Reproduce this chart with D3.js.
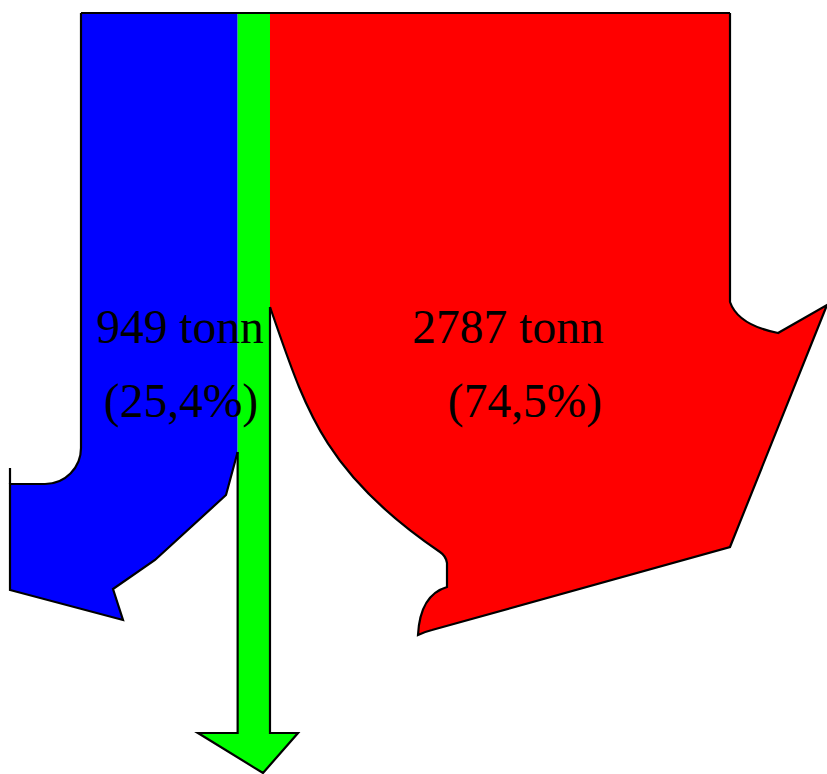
<!DOCTYPE html>
<html><head><meta charset="utf-8">
<script src="https://cdn.jsdelivr.net/npm/d3@7/dist/d3.min.js"></script>
<style>html,body{margin:0;padding:0;background:#fff;}svg{display:block;}</style>
</head><body>
<script>
// Data
const categories = ["A", "B", "C"];
const values = [949, 196, 2787];          // tonn (B: narrow pass-through flow, estimated)
const colors = ["#0000ff", "#00ff00", "#ff0000"];
const amountLabels = ["949 tonn", "", "2787 tonn"];
const percentLabels = ["(25,4%)", "", "(74,5%)"];

(function () {
const W = 827, H = 774;
const svg = d3.select("body").append("svg").attr("width", W).attr("height", H);

const total = d3.sum(values);
const x = d3.scaleLinear().domain([0, total]).range([81, 730]);
let acc = 0;
const bands = values.map(v => { const b = {x0: x(acc), x1: x(acc + v)}; acc += v; return b; });
const topY = 13;
const [B, G, R] = bands;

const p = d3.path();
p.moveTo(440, 552);
p.bezierCurveTo(322, 472, 305, 407, R.x0, 307);
const bigCurveTail = p.toString().replace(/^M[^C]*/, "");

// Blue shape
const blueBody = `M${B.x1},452 L226,495 L155,560 L113,589 L123,620 L10,590 L10,484 L45,484 A36 36 0 0 0 ${B.x0},448`;
svg.append("path").attr("d", `M${B.x0},${topY} L${B.x1},${topY} L${B.x1},452 ` + blueBody.slice(blueBody.indexOf("L")) + " Z")
  .attr("fill", colors[0]);
// Green shape
svg.append("path").attr("d", `M${G.x0},${topY} L${G.x1},${topY} L${G.x1},733 L298,733 L263,773 L198,733 L${G.x0},733 Z`)
  .attr("fill", colors[1]);
// Red shape
const redBody = `M${R.x1},${topY} L${R.x1},302 Q738,325 778,333 L827,305 L730,547 L432,630 Q424,632 418,635 Q420,595 447,587 L447,563 Q446,556 440,552`;
svg.append("path").attr("d", `M${R.x0},${topY} L${R.x1},${topY} ` + redBody.slice(redBody.indexOf("L")) + " " + bigCurveTail + ` L${R.x0},${topY} Z`)
  .attr("fill", colors[2]);

// Outlines
const strokeG = svg.append("g").attr("fill", "none").attr("stroke", "#000").attr("stroke-width", 2.2).attr("stroke-linejoin", "miter");
strokeG.append("path").attr("d", blueBody + ` L${B.x0},${topY}`);
strokeG.append("path").attr("d", `M10,468 L10,484`);
strokeG.append("path").attr("d", `M${G.x0},452 L${G.x0},733 L198,733 L263,773 L298,733 L${G.x1},733 L${G.x1},307`);
strokeG.append("path").attr("d", redBody + " " + bigCurveTail);
strokeG.append("path").attr("d", `M${B.x0},${topY} L${R.x1},${topY}`);

// Labels
const textG = svg.append("g").attr("font-family", "'Liberation Serif', 'Times New Roman', serif")
  .attr("font-size", 47.5).attr("fill", "#000").attr("text-anchor", "middle");
const line1X = [180, 0, 508], line2X = [181, 0, 525];
categories.forEach((c, i) => {
  if (!amountLabels[i]) return;
  textG.append("text").attr("x", line1X[i]).attr("y", 343).text(amountLabels[i]);
  textG.append("text").attr("x", line2X[i]).attr("y", 417).text(percentLabels[i]);
});
})();
</script>
</body></html>
